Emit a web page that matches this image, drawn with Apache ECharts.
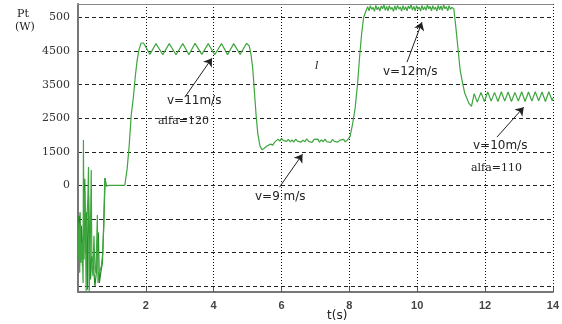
<!DOCTYPE html>
<html>
<head>
<meta charset="utf-8">
<script src="https://cdn.jsdelivr.net/npm/echarts@6/dist/echarts.min.js"></script>
<style>
  html, body { margin: 0; padding: 0; background: #fff; }
  #chart { width: 562px; height: 324px; }
</style>
</head>
<body>
<div id="chart"></div>
<script>
// Turbine power Pt (W) against time t (s), wind steps 11 -> 9 -> 12 -> 10 m/s

// x axis ticks (s)
const xTicks = [2, 4, 6, 8, 10, 12, 14];
// horizontal grid positions and the labels printed beside them
const yGridValues = [5500, 4500, 3500, 2500, 1500, 500, -500, -1500, -2500];
const yLabelValues = [5500, 4500, 3500, 2500, 1500, 500];
const yTickLabels = ['500', '4500', '3500', '2500', '1500', '0'];

// start-up transient, main trace [t, Pt]
const startupTrace = [
  [0.00, -1700], [0.03, -600], [0.05, -2100], [0.07, -700], [0.09, -1800],
  [0.12, -1200], [0.15, -2400], [0.16, 1850], [0.18, -1700], [0.20, 300],
  [0.22, -900], [0.24, -2650], [0.26, -500], [0.29, 100], [0.31, 1050],
  [0.33, -2650], [0.36, -1400], [0.39, 960], [0.41, -1900], [0.44, -2200],
  [0.47, -1000], [0.50, -1950], [0.53, -2100], [0.57, -380], [0.59, -2400],
  [0.62, -2100], [0.66, -2000], [0.69, -1900], [0.73, -1500], [0.76, -700],
  [0.79, 717], [0.81, 600], [0.83, 480], [0.90, 500], [1.00, 505],
  [1.20, 500], [1.38, 510], [1.45, 1000], [1.51, 1700], [1.57, 2600],
  [1.63, 3100], [1.69, 3750], [1.74, 4200], [1.80, 4550], [1.86, 4740]
];
// start-up transient, darker overlapping trace
const startupDark = [
  [0.02, -400], [0.04, -1700], [0.06, -300], [0.08, -1500], [0.10, -700],
  [0.13, -1900], [0.20, 700], [0.22, -1500], [0.25, -300], [0.28, -2600],
  [0.31, 200], [0.34, -1000], [0.37, -2300], [0.40, -1600], [0.45, -1800],
  [0.50, -2500], [0.55, -2000], [0.60, -900], [0.63, -2400], [0.67, -2100],
  [0.72, -1800], [0.76, -600], [0.80, 720], [0.83, 500]
];
// v = 11 m/s, alfa = 120
const wind11 = [
  [1.93, 4740], [2.12, 4400], [2.30, 4720], [2.50, 4390], [2.69, 4720],
  [2.89, 4390], [3.09, 4720], [3.27, 4390], [3.45, 4730], [3.65, 4400],
  [3.84, 4720], [4.03, 4390], [4.23, 4720], [4.41, 4390], [4.59, 4720],
  [4.78, 4400], [4.97, 4730], [5.05, 4650], [5.10, 4400], [5.15, 4000],
  [5.20, 3300], [5.25, 2600], [5.30, 2050], [5.36, 1700], [5.42, 1560]
];
// v = 9 m/s
const wind9 = [
  [5.48, 1600], [5.52, 1620], [5.58, 1680], [5.62, 1640], [5.68, 1730],
  [5.74, 1700], [5.80, 1790], [5.85, 1750], [5.90, 1880], [5.95, 1820],
  [6.00, 1900], [6.05, 1840], [6.10, 1880], [6.15, 1810], [6.20, 1870],
  [6.26, 1800], [6.31, 1860], [6.36, 1790], [6.42, 1880], [6.47, 1820],
  [6.52, 1870], [6.58, 1790], [6.63, 1850], [6.69, 1800], [6.74, 1890],
  [6.80, 1810], [6.85, 1860], [6.90, 1780], [6.96, 1870], [7.01, 1820],
  [7.07, 1880], [7.12, 1790], [7.18, 1860], [7.23, 1800], [7.28, 1880],
  [7.34, 1800], [7.39, 1850], [7.45, 1780], [7.50, 1870], [7.56, 1810],
  [7.61, 1860], [7.66, 1790], [7.72, 1850], [7.77, 1800], [7.83, 1870],
  [7.88, 1800], [7.94, 1850], [7.99, 1900], [8.02, 1950], [8.09, 2300],
  [8.17, 2800], [8.24, 3500], [8.30, 4300], [8.36, 5000], [8.42, 5500]
];
// v = 12 m/s
const wind12 = [
  [8.50, 5720], [8.54, 5820], [8.58, 5700], [8.62, 5850], [8.66, 5740],
  [8.70, 5800], [8.74, 5680], [8.78, 5860], [8.82, 5730], [8.86, 5810],
  [8.90, 5690], [8.94, 5840], [8.98, 5760], [9.02, 5870], [9.06, 5710],
  [9.10, 5830], [9.14, 5700], [9.18, 5850], [9.22, 5740], [9.26, 5800],
  [9.30, 5680], [9.34, 5840], [9.38, 5720], [9.42, 5860], [9.46, 5750],
  [9.50, 5810], [9.54, 5690], [9.58, 5850], [9.62, 5730], [9.66, 5820],
  [9.70, 5700], [9.74, 5840], [9.78, 5760], [9.82, 5880], [9.86, 5720],
  [9.90, 5830], [9.94, 5700], [9.98, 5850], [10.02, 5740], [10.06, 5810],
  [10.10, 5690], [10.14, 5860], [10.18, 5730], [10.22, 5820], [10.26, 5710],
  [10.30, 5870], [10.34, 5750], [10.38, 5830], [10.42, 5700], [10.46, 5850],
  [10.50, 5740], [10.54, 5810], [10.58, 5690], [10.62, 5860], [10.66, 5730],
  [10.70, 5840], [10.74, 5710], [10.78, 5870], [10.82, 5760], [10.86, 5820],
  [10.90, 5700], [10.94, 5850], [10.98, 5740], [11.02, 5800], [11.06, 5760],
  [11.08, 5750], [11.13, 5300], [11.20, 4600], [11.27, 3900], [11.34, 3540],
  [11.40, 3250], [11.46, 3100], [11.52, 2950]
];
// v = 10 m/s, alfa = 110
const wind10 = [
  [11.60, 2850], [11.68, 3230], [11.77, 2980], [11.88, 3270], [11.98, 3000],
  [12.08, 3280], [12.18, 3010], [12.28, 3270], [12.38, 3000], [12.48, 3290],
  [12.58, 3010], [12.68, 3280], [12.78, 3000], [12.88, 3270], [12.98, 3010],
  [13.08, 3290], [13.18, 3000], [13.28, 3280], [13.38, 3010], [13.48, 3290],
  [13.58, 3020], [13.68, 3280], [13.78, 3000], [13.88, 3290], [13.98, 3020],
  [14.00, 3100]
];
// annotation arrows: [tail, head] in [t, Pt]
const arrows = [
  [[3.15, 3128], [3.95, 4289]],
  [[5.94, 450], [6.62, 1432]],
  [[9.70, 4170], [10.14, 5360]],
  [[12.35, 1938], [13.14, 2831]]
];

const mainTrace = startupTrace.concat(wind11, wind9, wind12, wind10);

const chart = echarts.init(document.getElementById('chart'), null, { renderer: 'canvas' });

const serif = 'DejaVu Serif';
const sans = 'Liberation Sans';
const wideSans = 'DejaVu Sans';

function note(text, x, y, font, size, extra) {
  return {
    type: 'text', x: x, y: y,
    style: { text: text, fill: '#222', font: (extra || '') + ' ' + size + 'px "' + font + '"', textVerticalAlign: 'middle' }
  };
}

chart.setOption({
  animation: false,
  backgroundColor: '#fff',
  grid: { left: 78, right: 8, top: 4, bottom: 32, containLabel: false },
  xAxis: [{
    type: 'value', min: 0, max: 14, interval: 2,
    axisLine: { show: true, onZero: false, lineStyle: { color: '#777', width: 2 } },
    axisTick: { show: true, inside: true, length: 5, lineStyle: { color: '#555' } },
    axisLabel: {
      showMinLabel: false, margin: 8, color: '#444', fontFamily: sans,
      fontSize: 11, fontWeight: 'bold',
      formatter: v => (xTicks.indexOf(v) >= 0 ? String(v) : '')
    },
    splitLine: { show: true, lineStyle: { type: [1, 2], color: '#111', width: 1 } }
  }, {
    type: 'value', min: 0, max: 14, position: 'top',
    axisLine: { show: true, onZero: false, lineStyle: { color: '#888', width: 1 } },
    axisTick: { show: false }, axisLabel: { show: false }, splitLine: { show: false }
  }],
  yAxis: {
    type: 'value', min: -2670, max: 5900,
    axisLine: { show: true, onZero: false, lineStyle: { color: '#777', width: 2 } },
    axisTick: { show: false, customValues: yGridValues },
    axisLabel: {
      customValues: yLabelValues, margin: 8, color: '#333',
      fontFamily: serif, fontSize: 11,
      formatter: v => {
        const i = yLabelValues.indexOf(v);
        return i >= 0 ? yTickLabels[i] : '';
      }
    },
    splitLine: { show: true, lineStyle: { type: [4, 3], color: '#222', width: 1 } }
  },
  series: [{
    type: 'line', data: startupDark, showSymbol: false, clip: true,
    lineStyle: { color: '#1f8a1f', width: 1.2 }
  }, {
    type: 'line', data: mainTrace, showSymbol: false, clip: true,
    lineStyle: { color: '#3ea63e', width: 1.2 },
    markLine: {
      silent: true, symbol: ['none', 'arrow'], symbolSize: 8,
      label: { show: false },
      lineStyle: { color: '#222', width: 1, type: 'solid' },
      data: arrows.map(a => [{ coord: a[0] }, { coord: a[1] }])
    }
  }],
  graphic: [
    note('Pt', 17, 14, serif, 11),
    note('(W)', 15, 27, serif, 11),
    note('v=11m/s', 167, 101, wideSans, 12),
    note('alfa=120', 158, 121, serif, 11),
    note('v=9 m/s', 255, 197, wideSans, 12),
    note('v=12m/s', 383, 72, wideSans, 12),
    note('v=10m/s', 473, 146, wideSans, 12),
    note('alfa=110', 471, 168, serif, 11),
    note('l', 315, 66, serif, 11, 'italic'),
    note('t(s)', 327, 316, wideSans, 12)
  ]
});
</script>
</body>
</html>
